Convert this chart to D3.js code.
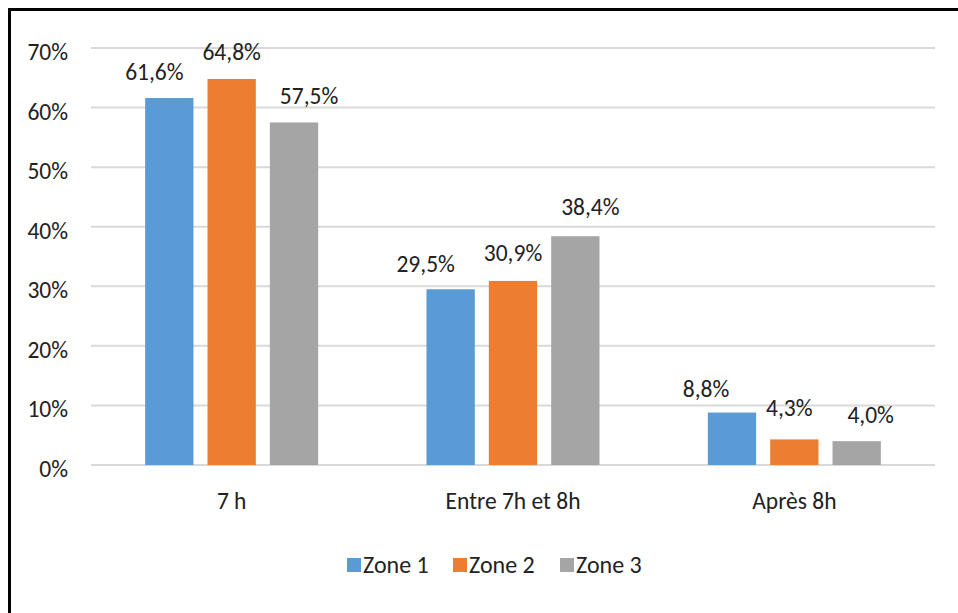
<!DOCTYPE html>
<html>
<head>
<meta charset="utf-8">
<script src="https://cdn.jsdelivr.net/npm/d3@7"></script>
<style>
  html, body { margin: 0; padding: 0; background: #fff; }
  svg { display: block; }
  text { font-family: Carlito, Calibri, Lato, sans-serif; fill: #222; }
</style>
</head>
<body>
<svg id="chart" width="958" height="613"></svg>
<script>
// Arrival time shares by zone
const categories = ["7 h", "Entre 7h et 8h", "Après 8h"];
const seriesNames = ["Zone 1", "Zone 2", "Zone 3"];
const zone1 = [61.6, 29.5, 8.8];
const zone2 = [64.8, 30.9, 4.3];
const zone3 = [57.5, 38.4, 4.0];
const yTicks = [0, 10, 20, 30, 40, 50, 60, 70];
const colors = ["#5B9BD5", "#ED7D31", "#A5A5A5"];

const seriesValues = [zone1, zone2, zone3];
const fmt = v => v.toFixed(1).replace(".", ",") + "%";
const FS = 23.5;

// Hand-placed label nudges [dx, dy] per category, per series (keeps labels apart)
const labelNudge = [
  [[-15, -18], [0, -19], [15, -18.5]],
  [[-25, -17.5], [0, -20], [15, -21]],
  [[-26, -16], [-5, -23.5], [14, -18]]
];

const svg = d3.select("#chart");
const W = 958, H = 613;
const plot = { left: 91, right: 935, top: 48, bottom: 465 };

// Frame: left and top rules
svg.append("line").attr("x1", 9.5).attr("y1", 9.5).attr("x2", W).attr("y2", 9.5)
  .attr("stroke", "#000").attr("stroke-width", 3);
svg.append("line").attr("x1", 9.5).attr("y1", 8).attr("x2", 9.5).attr("y2", H)
  .attr("stroke", "#000").attr("stroke-width", 3);

const y = d3.scaleLinear().domain([0, 70]).range([plot.bottom, plot.top]);
const x0 = d3.scaleBand().domain(categories).range([plot.left, plot.right])
  .paddingInner(0.385).paddingOuter(0.1925);
const x1 = d3.scaleBand().domain(seriesNames).range([0, x0.bandwidth()])
  .paddingInner(0.225).paddingOuter(0);

// Gridlines
svg.append("g").selectAll("line").data(yTicks).join("line")
  .attr("x1", plot.left).attr("x2", plot.right)
  .attr("y1", d => y(d)).attr("y2", d => y(d))
  .attr("stroke", "#D9D9D9").attr("stroke-width", 2);

// Y axis labels
const yAxis = d3.axisLeft(y).tickValues(yTicks).tickFormat(d => d + "%").tickSize(0).tickPadding(0);
const gy = svg.append("g").attr("transform", "translate(68,4)").call(yAxis);
gy.select(".domain").remove();
gy.selectAll("text").attr("font-size", FS).attr("fill", "#222")
  .style("font-family", "Carlito, Calibri, Lato, sans-serif");

// X axis labels
const xAxis = d3.axisBottom(x0).tickSize(0).tickPadding(0);
const gx = svg.append("g").attr("transform", "translate(0,492)").call(xAxis);
gx.select(".domain").remove();
gx.selectAll("text").attr("font-size", FS).attr("fill", "#222")
  .style("font-family", "Carlito, Calibri, Lato, sans-serif");

// Bars and value labels
const groups = svg.append("g").selectAll("g").data(categories).join("g")
  .attr("transform", d => `translate(${x0(d)},0)`);

groups.each(function(cat, ci) {
  const g = d3.select(this);
  const data = seriesNames.map((s, si) => ({ s, si, v: seriesValues[si][ci], n: labelNudge[ci][si] }));
  g.selectAll("rect").data(data).join("rect")
    .attr("x", d => x1(d.s)).attr("width", x1.bandwidth())
    .attr("y", d => y(d.v)).attr("height", d => y(0) - y(d.v))
    .attr("fill", d => colors[d.si]);
  g.selectAll("text").data(data).join("text")
    .attr("x", d => x1(d.s) + x1.bandwidth() / 2 + d.n[0])
    .attr("y", d => y(d.v) + d.n[1])
    .attr("text-anchor", "middle")
    .attr("font-size", FS)
    .text(d => fmt(d.v));
});

// Legend
const legendX = [347, 453, 560];
const lg = svg.append("g").selectAll("g").data(seriesNames).join("g")
  .attr("transform", (d, i) => `translate(${legendX[i]},558)`);
lg.append("rect").attr("width", 14).attr("height", 14).attr("fill", (d, i) => colors[i]);
lg.append("text").attr("x", 16).attr("y", 15).attr("font-size", 24).text(d => d);
</script>
</body>
</html>
